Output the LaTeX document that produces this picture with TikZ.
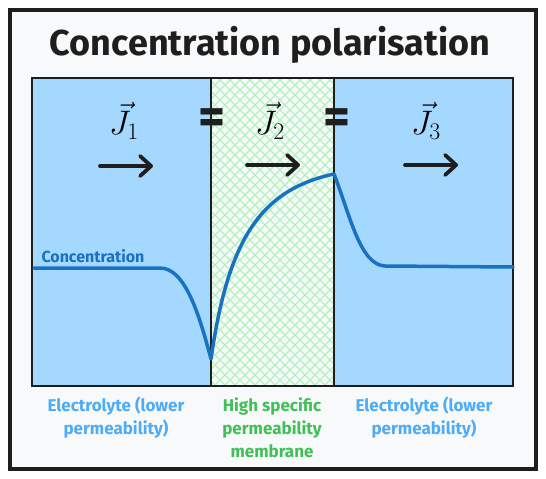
\documentclass[tikz,border=0pt]{standalone}
\usepackage{fix-cm}
\usepackage{amsmath}
\usepackage{fontspec}
\setmainfont{Fira Sans}
\usepackage{tikz}
\usetikzlibrary{arrows.meta, positioning, calc}
\definecolor{ink}{HTML}{1E1E1E}
\definecolor{paper}{HTML}{F8F9FA}
\definecolor{cell}{HTML}{A5D8FF}
\definecolor{curve}{HTML}{1971C2}
\definecolor{hatch}{HTML}{B2F2BB}
\definecolor{elabel}{HTML}{4DABF7}
\definecolor{mlabel}{HTML}{40C057}

\tikzset{
    flux/.style={line width=3.8pt, ink, line cap=round,
        -{Straight Barb[round, length=11pt, width=20pt]}},
    fluxlabel/.style={font=\fontsize{34}{36}\selectfont, inner sep=0pt},
    eqsign/.style={font=\bfseries\fontsize{52}{52}\selectfont, text=ink, inner sep=0pt},
    zonelabel/.style={font=\bfseries\fontsize{17}{23}\selectfont, align=center}
}

\begin{document}
\begin{tikzpicture}[x=1pt, y=-1pt]
    \useasboundingbox (0,0) rectangle (546,479);

    % Frame
    \draw[ink, line width=4pt, fill=paper] (10,10) rectangle (536,469);

    % Title
    \node[font=\bfseries\fontsize{36}{38}\selectfont, text=ink] (title) at (270,45)
        {Concentration polarisation};

    % Electrolyte cells
    \fill[cell] (32,78) rectangle (211,386);
    \fill[cell] (334,78) rectangle (513,386);

    % Membrane hatching
    \begin{scope}
        \clip (211,78) rectangle (334,386);
        \foreach \c in {-340,-330,...,200}
            \draw[hatch, line width=1.2pt] (200,{200+\c}) -- (350,{350+\c});
        \foreach \c in {200,210,...,750}
            \draw[hatch, line width=1.2pt] (200,{\c-200}) -- (350,{\c-350});
    \end{scope}

    % Borders
    \draw[ink, line width=2pt] (32,78) rectangle (513,386);
    \draw[ink, line width=2pt] (211,78) -- (211,386);
    \draw[ink, line width=2pt] (334,78) -- (334,386);

    % Concentration profile
    \draw[curve, line width=3.5pt, line cap=round, line join=round]
        (34,268) -- (160,268)
        .. controls (186,268) and (200,318) .. (211,359)
        .. controls (228,240) and (260,190) .. (334,174)
        .. controls (350,215) and (360,265) .. (385,266)
        -- (513,267);
    \node[font=\bfseries\fontsize{16}{18}\selectfont, text=curve, anchor=west]
        (conc) at (38,256) {Concentration};

    % Fluxes
    \node[fluxlabel] (J1) at (124,121) {$\vec{J}_1$};
    \node[fluxlabel] (J2) at (270,121) {$\vec{J}_2$};
    \node[fluxlabel] (J3) at (426,121) {$\vec{J}_3$};
    \draw[flux] (100,166) -- (153,166);
    \draw[flux] (247,165) -- (300,165);
    \draw[flux] (405,165) -- (458,165);

    % Equal signs
    \node[eqsign] (eqa) at (212,122) {=};
    \node[eqsign] (eqb) at (337,122) {=};

    % Zone labels
    \node[zonelabel, text=elabel] (left) at (116,418)
        {Electrolyte (lower\\permeability)};
    \node[zonelabel, text=mlabel] (memb) at (272,428)
        {High specific\\permeability\\membrane};
    \node[zonelabel, text=elabel] (right) at (424,418)
        {Electrolyte (lower\\permeability)};
\end{tikzpicture}
\end{document}
